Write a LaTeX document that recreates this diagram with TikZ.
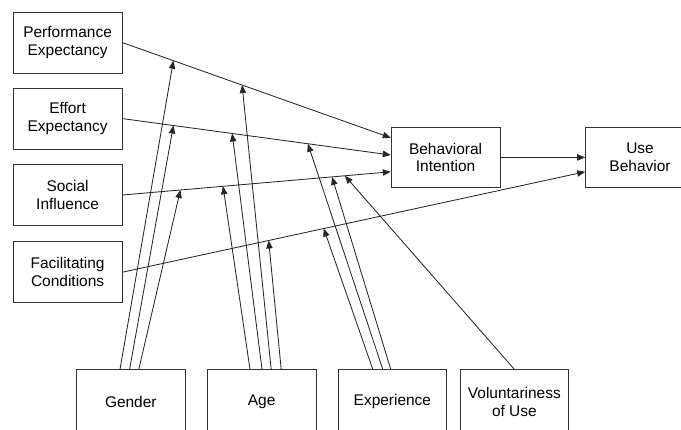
\documentclass[tikz,border=0pt]{standalone}
\usepackage{fontspec}
\setmainfont{Liberation Sans}
\usepackage{tikz}
\usetikzlibrary{
  arrows.meta,
  positioning,
  calc,
}
\tikzset{
  constructBox/.style={
    rectangle, draw=black!80, line width=0.6pt, fill=white,
    minimum width=2.72cm, minimum height=1.52cm, inner sep=2pt,
    align=center, font=\fontsize{11}{12.5}\selectfont,
  },
  moderatorBox/.style={
    constructBox, minimum height=1.6cm,
  },
  arrowMain/.style={
    -{Triangle[length=2mm,width=1.6mm]}, line width=0.6pt, draw=black!85,
  },
  arrowMod/.style={
    arrowMain,
  },
}

\begin{document}
\begin{tikzpicture}

\clip (0,0) rectangle (17.025,10.725);

% Determinants
\node[constructBox] (perfExp) at (1.69, 9.66) {Performance\\Expectancy};
\node[constructBox] (effExp)  at (1.69, 7.76) {Effort\\Expectancy};
\node[constructBox] (socInf)  at (1.69, 5.85) {Social\\Influence};
\node[constructBox] (facCond) at (1.69, 3.92) {Facilitating\\Conditions};

% Intention and use
\node[constructBox] (behInt) at (11.14, 6.79) {Behavioral\\Intention};
\node[constructBox] (useBeh) at (16.00, 6.79) {Use\\Behavior};

% Moderators
\node[moderatorBox] (gender) at (3.27, 0.68) {Gender};
\node[moderatorBox] (age)    at (6.54, 0.68) {Age};
\node[moderatorBox] (exper)  at (9.81, 0.68) {Experience};
\node[moderatorBox] (volUse) at (12.86, 0.68) {Voluntariness\\of Use};

% Arrow ends on the left of intention and use
\coordinate (biPE) at ($(behInt.west)+(0, 0.49)$);
\coordinate (biEE) at ($(behInt.west)+(0, 0.06)$);
\coordinate (biSI) at ($(behInt.west)+(0,-0.36)$);
\coordinate (ubFC) at ($(useBeh.west)+(0,-0.36)$);

% Main paths
\draw[arrowMain] (perfExp.east) -- (biPE);
\draw[arrowMain] (effExp.east) -- (biEE);
\draw[arrowMain] (socInf.east) -- (biSI);
\draw[arrowMain] (facCond.east) -- (ubFC);
\draw[arrowMain] (behInt.east) -- (useBeh.west);

% Points where moderators meet the main paths
\coordinate (gPE) at ($(perfExp.east)!0.190!(biPE)$);
\coordinate (aPE) at ($(perfExp.east)!0.446!(biPE)$);
\coordinate (gEE) at ($(effExp.east)!0.190!(biEE)$);
\coordinate (aEE) at ($(effExp.east)!0.409!(biEE)$);
\coordinate (eEE) at ($(effExp.east)!0.691!(biEE)$);
\coordinate (gSI) at ($(socInf.east)!0.216!(biSI)$);
\coordinate (aSI) at ($(socInf.east)!0.375!(biSI)$);
\coordinate (eSI) at ($(socInf.east)!0.781!(biSI)$);
\coordinate (vSI) at ($(socInf.east)!0.829!(biSI)$);
\coordinate (aFC) at ($(facCond.east)!0.316!(ubFC)$);
\coordinate (eFC) at ($(facCond.east)!0.435!(ubFC)$);

% Moderator arrows
\foreach \src/\dx/\tgt in {gender/-0.27/gPE, gender/-0.03/gEE, gender/0.20/gSI,
    age/-0.29/aSI, age/0.01/aEE, age/0.24/aPE, age/0.49/aFC,
    exper/-0.49/eFC, exper/-0.24/eEE, exper/-0.04/eSI,
    volUse/0/vSI}
{
  \draw[arrowMod] ($(\src.north)+(\dx,0)$) -- (\tgt);
}

\end{tikzpicture}
\end{document}
